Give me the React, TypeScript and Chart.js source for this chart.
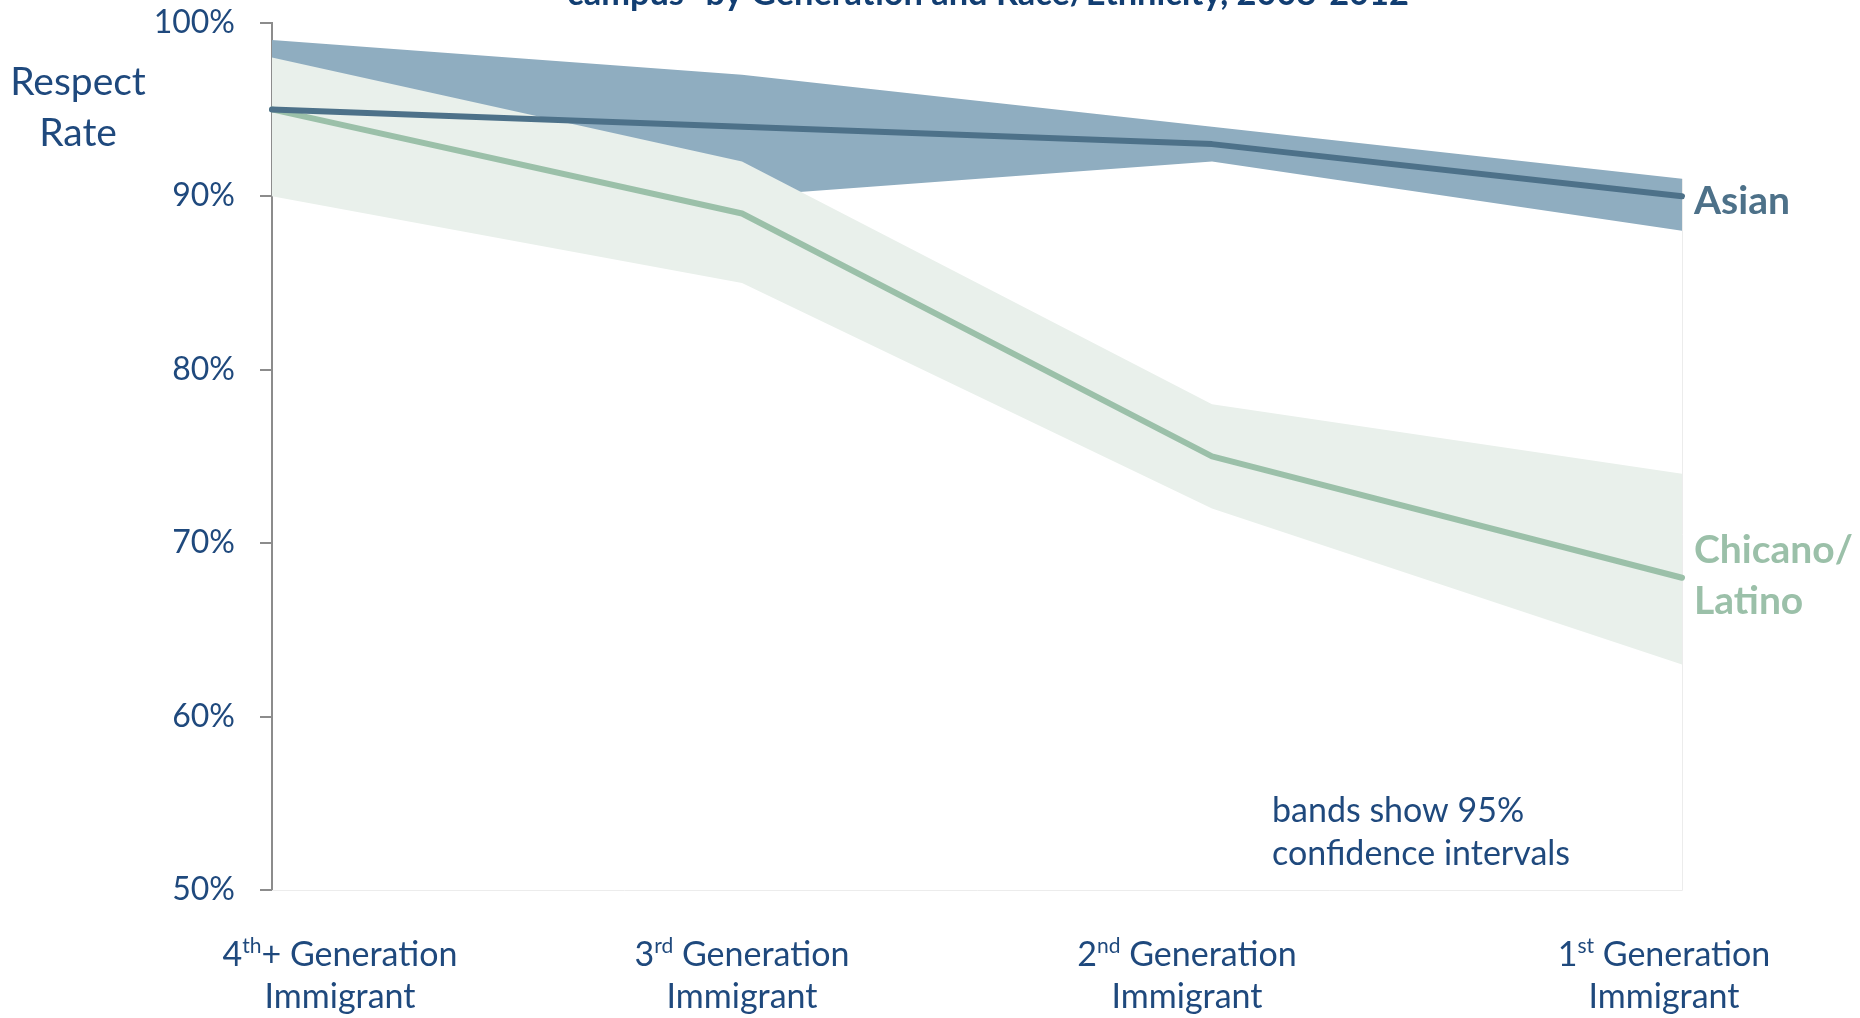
import React, { useEffect, useRef } from 'react';
import { Chart, registerables } from 'chart.js';

Chart.register(...registerables);

// Generations (x categories), split so the ordinal suffix can be drawn as a superscript
const genOrdinals = ['4', '3', '2', '1'];
const genSuffixes = ['th', 'rd', 'nd', 'st'];
const genTails = ['+ Generation', ' Generation', ' Generation', ' Generation'];
const genSecondLine = 'Immigrant';
const categories = genOrdinals.map((n, i) => `${n}${genSuffixes[i]}${genTails[i]} ${genSecondLine}`);

// Y axis ticks (percent)
const yTicks = [50, 60, 70, 80, 90, 100];

// Asian respect rate with 95% confidence band
const asianRate = [95, 94, 93, 90];
const asianLow = [91, 90, 92, 88];
const asianHigh = [99, 97, 94, 91];

// Chicano/Latino respect rate with 95% confidence band
const latinoRate = [95, 89, 75, 68];
const latinoLow = [90, 85, 72, 63];
const latinoHigh = [98, 92, 78, 74];

const titleText = 'campus\u201D by Generation and Race/Ethnicity, 2008-2012';
const axisTitle = ['Respect', 'Rate'];
const noteLines = ['bands show 95%', 'confidence intervals'];
const asianName = 'Asian';
const latinoName = ['Chicano/', 'Latino'];

const FONT = 'Lato, "Open Sans", sans-serif';
const NAVY = '#1F497D';
const TITLE_NAVY = '#123E72';
const ASIAN_LINE = '#4D7189';
const ASIAN_BAND = '#8FADC0';
const LATINO_LINE = '#9BC0A9';
const LATINO_BAND = '#E9F0EB';
const AXIS_GREY = '#8C8C8C';

// horizontal nudges of the category labels relative to their tick
const labelShift = [68, 0, -25, -18];

const chartText = {
  id: 'chartText',
  beforeDatasetsDraw(chart: any) {
    const { ctx, chartArea, scales } = chart;
    const last = asianHigh.length - 1;
    ctx.save();
    ctx.strokeStyle = '#ECECEC';
    ctx.lineWidth = 1;
    ctx.beginPath();
    ctx.moveTo(chartArea.left, chartArea.bottom + 0.5);
    ctx.lineTo(chartArea.right + 0.5, chartArea.bottom + 0.5);
    ctx.lineTo(chartArea.right + 0.5, scales.y.getPixelForValue(asianHigh[last]));
    ctx.stroke();
    ctx.restore();
  },
  afterDraw(chart: any) {
    const { ctx, scales } = chart;
    const xs = scales.x;
    const ys = scales.y;
    ctx.save();
    ctx.textBaseline = 'alphabetic';

    // title (its upper part runs off the top of the canvas)
    ctx.fillStyle = TITLE_NAVY;
    ctx.font = `bold 100px ${FONT}`;
    const w100 = ctx.measureText(titleText).width;
    const titleSize = (842 / w100) * 100;
    ctx.font = `bold ${titleSize}px ${FONT}`;
    ctx.textAlign = 'center';
    ctx.fillText(titleText, 988, 5);

    // y axis title
    ctx.fillStyle = NAVY;
    ctx.font = `39px ${FONT}`;
    ctx.fillText(axisTitle[0], 78, 95);
    ctx.fillText(axisTitle[1], 78, 146);

    // category labels with superscript ordinals
    const main = `34px ${FONT}`;
    const sup = `21px ${FONT}`;
    genOrdinals.forEach((n, i) => {
      const cx = xs.getPixelForValue(i) + labelShift[i];
      ctx.font = main;
      const wN = ctx.measureText(n).width;
      const wT = ctx.measureText(genTails[i]).width;
      ctx.font = sup;
      const wS = ctx.measureText(genSuffixes[i]).width;
      const x0 = cx - (wN + wS + wT) / 2;
      ctx.textAlign = 'left';
      ctx.font = main;
      ctx.fillText(n, x0, 966);
      ctx.font = sup;
      ctx.fillText(genSuffixes[i], x0 + wN, 953);
      ctx.font = main;
      ctx.fillText(genTails[i], x0 + wN + wS, 966);
      ctx.textAlign = 'center';
      ctx.fillText(genSecondLine, cx, 1008);
    });

    // note about the bands
    ctx.textAlign = 'left';
    ctx.font = `34px ${FONT}`;
    ctx.fillText(noteLines[0], 1272, 822);
    ctx.fillText(noteLines[1], 1272, 865);

    // series names at the line ends
    const last = asianRate.length - 1;
    const xEnd = xs.getPixelForValue(last) + 12;
    ctx.font = `bold 39px ${FONT}`;
    ctx.fillStyle = ASIAN_LINE;
    ctx.fillText(asianName, xEnd, ys.getPixelForValue(asianRate[last]) + 18);
    ctx.fillStyle = LATINO_LINE;
    const ly = ys.getPixelForValue(latinoRate[last]);
    ctx.fillText(latinoName[0], xEnd, ly - 15);
    ctx.fillText(latinoName[1], xEnd, ly + 36);
    ctx.restore();
  },
};

export default function App() {
  const canvasRef = useRef<HTMLCanvasElement | null>(null);

  useEffect(() => {
    let chart: Chart | null = null;
    let cancelled = false;
    const build = () => {
      if (cancelled || !canvasRef.current) return;
      const line = (data: number[], color: string) => ({
        data,
        borderColor: color,
        borderWidth: 6,
        borderCapStyle: 'round' as const,
        borderJoinStyle: 'round' as const,
        pointRadius: 0,
        fill: false,
        tension: 0,
      });
      const edge = (data: number[], fill: any, bg: string) => ({
        data,
        borderWidth: 0,
        borderColor: 'rgba(0,0,0,0)',
        backgroundColor: bg,
        pointRadius: 0,
        fill,
        tension: 0,
      });
      chart = new Chart(canvasRef.current, {
        type: 'line',
        data: {
          labels: categories,
          // index 0 is painted last (on top)
          datasets: [
            line(asianRate, ASIAN_LINE),
            line(latinoRate, LATINO_LINE),
            edge(latinoHigh, '+1', LATINO_BAND),
            edge(latinoLow, false, LATINO_BAND),
            edge(asianHigh, '+1', ASIAN_BAND),
            edge(asianLow, false, ASIAN_BAND),
          ] as any,
        },
        options: {
          responsive: false,
          animation: false,
          devicePixelRatio: 1,
          layout: { autoPadding: false, padding: { top: 22.7, right: 178, bottom: 128, left: 0 } },
          plugins: {
            legend: { display: false },
            tooltip: { enabled: false },
            filler: { propagate: false },
          },
          scales: {
            x: {
              type: 'category',
              display: false,
              offset: false,
            },
            y: {
              min: 50,
              max: 100,
              afterFit: (s: any) => {
                s.width = 272;
                s.paddingTop = 0;
                s.paddingBottom = 0;
              },
              afterBuildTicks: (s: any) => {
                s.ticks = yTicks.map((v) => ({ value: v }));
              },
              border: { display: true, color: AXIS_GREY, width: 2 },
              grid: {
                drawOnChartArea: false,
                drawTicks: true,
                tickLength: 12,
                color: AXIS_GREY,
                lineWidth: 2,
              },
              ticks: {
                padding: 25,
                color: NAVY,
                font: { family: FONT, size: 32 },
                callback: (v: any) => `${v}%`,
              },
            },
          },
        },
        plugins: [chartText],
      });
    };
    const fonts = (document as any).fonts;
    if (fonts && fonts.load) {
      Promise.all([fonts.load(`31px Lato`), fonts.load(`bold 31px Lato`)])
        .catch(() => null)
        .then(build);
    } else {
      build();
    }
    return () => {
      cancelled = true;
      if (chart) chart.destroy();
    };
  }, []);

  return (
    <div style={{ position: 'fixed', left: 0, top: 0, width: 1860, height: 1018, background: '#fff' }}>
      <canvas ref={canvasRef} width={1860} height={1018} style={{ display: 'block' }} />
    </div>
  );
}
